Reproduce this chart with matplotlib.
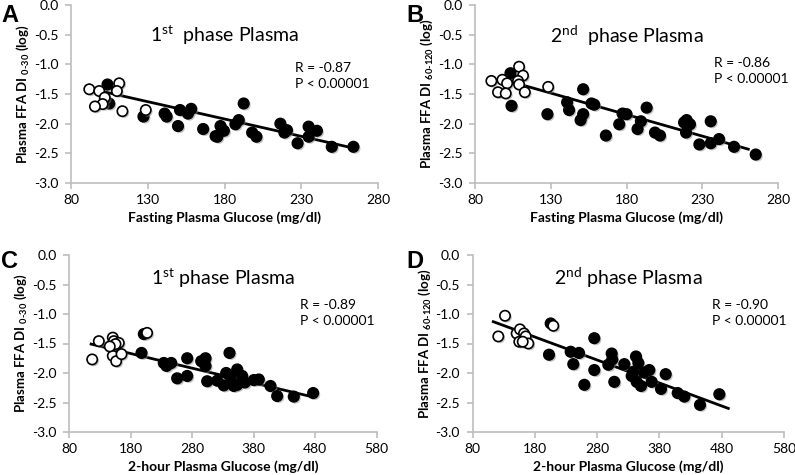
import matplotlib
matplotlib.use("Agg")
import matplotlib.pyplot as plt
import matplotlib.patheffects as pe

plt.rcParams['font.family'] = ['Lato', 'DejaVu Sans']
plt.rcParams['mathtext.fontset'] = 'custom'
plt.rcParams['mathtext.rm'] = 'Lato'
plt.rcParams['mathtext.bf'] = 'Lato:bold'
plt.rcParams['axes.unicode_minus'] = False

# ---------------- data ----------------
# Panel A: fasting glucose vs 1st phase
a_open_x = [91.9, 98.4, 111.4, 109.9, 102.0, 100.6, 95.6, 113.5, 128.7]
a_open_y = [-1.42, -1.45, -1.32, -1.45, -1.56, -1.67, -1.71, -1.79, -1.77]
a_fill_x = [103.8, 104.9, 127.2, 141.0, 142.3, 149.7, 151.0, 156.2, 158.3, 166.1,
            174.2, 175.3, 177.4, 179.6, 187.1, 189.3, 192.5, 198.0, 200.8, 216.4,
            219.0, 220.7, 227.6, 234.8, 234.8, 240.2, 249.9, 264.0]
a_fill_y = [-1.34, -1.66, -1.88, -1.83, -1.88, -2.04, -1.77, -1.83, -1.75, -2.09,
            -2.21, -2.22, -2.04, -2.12, -2.01, -1.94, -1.66, -2.15, -2.22, -2.00,
            -2.15, -2.11, -2.33, -2.05, -2.22, -2.12, -2.39, -2.39]
a_fit_x = [101.0, 262.0]
a_fit_y = [-1.46, -2.40]

# Panel B: fasting glucose vs 2nd phase
b_open_x = [90.8, 98.1, 101.2, 95.2, 100.3, 109.1, 111.7, 108.4, 109.1, 112.9, 128.3]
b_open_y = [-1.28, -1.26, -1.32, -1.47, -1.49, -1.04, -1.19, -1.28, -1.34, -1.47, -1.38]
b_fill_x = [103.4, 104.1, 127.8, 140.8, 142.1, 151.4, 151.4, 149.7, 156.9, 158.7,
            166.4, 175.2, 177.4, 180.0, 187.3, 189.5, 193.3, 198.8, 202.1, 218.0,
            219.7, 221.9, 219.3, 228.1, 235.6, 235.6, 241.1, 251.0, 265.3]
b_fill_y = [-1.15, -1.70, -1.84, -1.64, -1.77, -1.42, -1.84, -1.94, -1.66, -1.68,
            -2.20, -2.01, -1.83, -1.84, -2.09, -1.96, -1.73, -2.15, -2.20, -1.98,
            -1.94, -2.01, -2.15, -2.35, -1.96, -2.33, -2.26, -2.39, -2.52]
b_fit_x = [101.8, 260.4]
b_fit_y = [-1.28, -2.43]

# Panel C: 2-hour glucose vs 1st phase
c_open_x = [117.7, 128.5, 151.2, 152.9, 161.0, 155.6, 151.2, 156.7, 165.4, 146.3, 207.0]
c_open_y = [-1.77, -1.46, -1.40, -1.46, -1.49, -1.51, -1.71, -1.80, -1.68, -1.55, -1.32]
c_fill_x = [201.7, 197.9, 234.1, 238.5, 246.2, 255.9, 272.2, 272.2, 295.0, 302.0,
            302.0, 304.7, 321.0, 331.7, 335.6, 341.0, 342.6, 348.0, 353.5, 353.5,
            361.6, 365.9, 380.5, 388.6, 407.6, 418.5, 445.5, 477.0]
c_fill_y = [-1.34, -1.66, -1.83, -1.88, -1.83, -2.09, -1.75, -2.05, -1.80, -1.75,
            -1.88, -2.14, -2.13, -2.21, -2.00, -1.66, -2.06, -2.22, -1.94, -2.20,
            -2.05, -2.16, -2.12, -2.11, -2.22, -2.39, -2.40, -2.34]
c_fit_x = [116.0, 478.0]
c_fit_y = [-1.51, -2.41]

# Panel D: 2-hour glucose vs 2nd phase
d_open_x = [121.4, 132.2, 150.9, 156.2, 155.1, 162.7, 165.4, 169.6, 160.6, 209.7]
d_open_y = [-1.38, -1.03, -1.33, -1.26, -1.47, -1.33, -1.38, -1.50, -1.47, -1.20]
d_fill_x = [205.5, 202.8, 237.6, 250.9, 241.8, 259.5, 275.5, 275.5, 298.0, 303.4,
            304.4, 307.6, 323.7, 335.5, 338.1, 342.4, 346.2, 343.5, 350.5, 355.8,
            363.8, 367.6, 382.6, 390.1, 409.4, 420.0, 445.2, 476.2]
d_fill_y = [-1.16, -1.69, -1.64, -1.66, -1.85, -2.20, -1.41, -1.95, -1.86, -1.67,
            -1.77, -2.15, -1.85, -2.05, -1.98, -1.72, -1.83, -2.15, -2.22, -1.99,
            -1.95, -2.15, -2.27, -2.02, -2.34, -2.40, -2.54, -2.36]
d_fit_x = [113.4, 490.6]
d_fit_y = [-1.13, -2.60]

fasting_ticks = [80, 130, 180, 230, 280]
twohour_ticks = [80, 180, 280, 380, 480, 580]
y_ticks = [0.0, -0.5, -1.0, -1.5, -2.0, -2.5, -3.0]

W, H = 795, 475
panels = [
    dict(letter='A', lpos=(10, 15), rect=[71/W, 1-183/H, 307/W, 178/H],
         ox=a_open_x, oy=a_open_y, fx=a_fill_x, fy=a_fill_y, lx=a_fit_x, ly=a_fit_y,
         xt=fasting_ticks, title=r'1$^{\mathrm{st}}$  phase Plasma', tpos=0.83,
         ylab='Plasma FFA DI $_{\\mathbf{0\u201030}}$ (log)',
         xlab='Fasting Plasma Glucose (mg/dl)', stats=('R = -0.87', 'P < 0.00001'),
         spos=(0.73, 0.60)),
    dict(letter='B', lpos=(415, 15), rect=[475/W, 1-183/H, 303/W, 178/H],
         ox=b_open_x, oy=b_open_y, fx=b_fill_x, fy=b_fill_y, lx=b_fit_x, ly=b_fit_y,
         xt=fasting_ticks, title=r'2$^{\mathrm{nd}}$  phase Plasma', tpos=0.83,
         ylab='Plasma FFA DI $_{\\mathbf{60\u2010120}}$ (log)',
         xlab='Fasting Plasma Glucose (mg/dl)', stats=('R = -0.86', 'P < 0.00001'),
         spos=(0.79, 0.63)),
    dict(letter='C', lpos=(10, 262), rect=[69/W, 1-432/H, 307.5/W, 177/H],
         ox=c_open_x, oy=c_open_y, fx=c_fill_x, fy=c_fill_y, lx=c_fit_x, ly=c_fit_y,
         xt=twohour_ticks, title=r'1$^{\mathrm{st}}$ phase Plasma', tpos=0.87,
         ylab='Plasma FFA DI $_{\\mathbf{0\u201030}}$ (log)',
         xlab='2-hour Plasma Glucose (mg/dl)', stats=('R = -0.89', 'P < 0.00001'),
         spos=(0.75, 0.67)),
    dict(letter='D', lpos=(415, 262), rect=[472.5/W, 1-432/H, 311.5/W, 177/H],
         ox=d_open_x, oy=d_open_y, fx=d_fill_x, fy=d_fill_y, lx=d_fit_x, ly=d_fit_y,
         xt=twohour_ticks, title=r'2$^{\mathrm{nd}}$ phase Plasma', tpos=0.87,
         ylab='Plasma FFA DI $_{\\mathbf{60\u2010120}}$ (log)',
         xlab='2-hour Plasma Glucose (mg/dl)', stats=('R = -0.90', 'P < 0.00001'),
         spos=(0.77, 0.67)),
]

fig = plt.figure(figsize=(7.95, 4.75), dpi=100)
spine_col = '#BDBDBD'
shadow = [pe.SimplePatchShadow(offset=(1.2, -1.2), shadow_rgbFace='#888888', alpha=0.5), pe.Normal()]

for p in panels:
    ax = fig.add_axes(p['rect'])
    ax.set_xlim(p['xt'][0], p['xt'][-1])
    ax.set_ylim(-3.0, 0.0)
    ax.set_xticks(p['xt'])
    ax.set_yticks(y_ticks)
    ax.set_yticklabels([f'{v:.1f}' for v in y_ticks])
    for s in ['top', 'right']:
        ax.spines[s].set_visible(False)
    for s in ['left', 'bottom']:
        ax.spines[s].set_color(spine_col)
        ax.spines[s].set_linewidth(1.2)
    ax.tick_params(axis='both', direction='out', length=4, width=1.2, color=spine_col,
                   labelsize=10, labelcolor='black', pad=5)
    ax.tick_params(axis='x', pad=4)
    ax.plot(p['lx'], p['ly'], color='black', lw=2, zorder=2)
    sc = ax.scatter(p['fx'], p['fy'], s=60, c='black', edgecolors='black', linewidths=1, zorder=3)
    sc.set_path_effects(shadow)
    so = ax.scatter(p['ox'], p['oy'], s=55, c='white', edgecolors='black', linewidths=1.2, zorder=4)
    so.set_path_effects(shadow)
    ax.text(0.5, p['tpos'], p['title'], transform=ax.transAxes, ha='center', va='center', fontsize=14)
    ax.text(p['spos'][0], p['spos'][1], p['stats'][0] + '\n' + p['stats'][1], transform=ax.transAxes,
            ha='left', va='center', fontsize=10, linespacing=1.4)
    ax.set_ylabel(p['ylab'], fontsize=9.5, fontweight='bold', labelpad=2)
    ax.set_xlabel(p['xlab'], fontsize=10, fontweight='bold', labelpad=4)
    fig.text(p['lpos'][0] / W, 1 - p['lpos'][1] / H, p['letter'], fontsize=17,
             fontweight='bold', family=['Liberation Sans', 'DejaVu Sans'],
             ha='center', va='center')

fig.savefig('out.png', dpi=100)
